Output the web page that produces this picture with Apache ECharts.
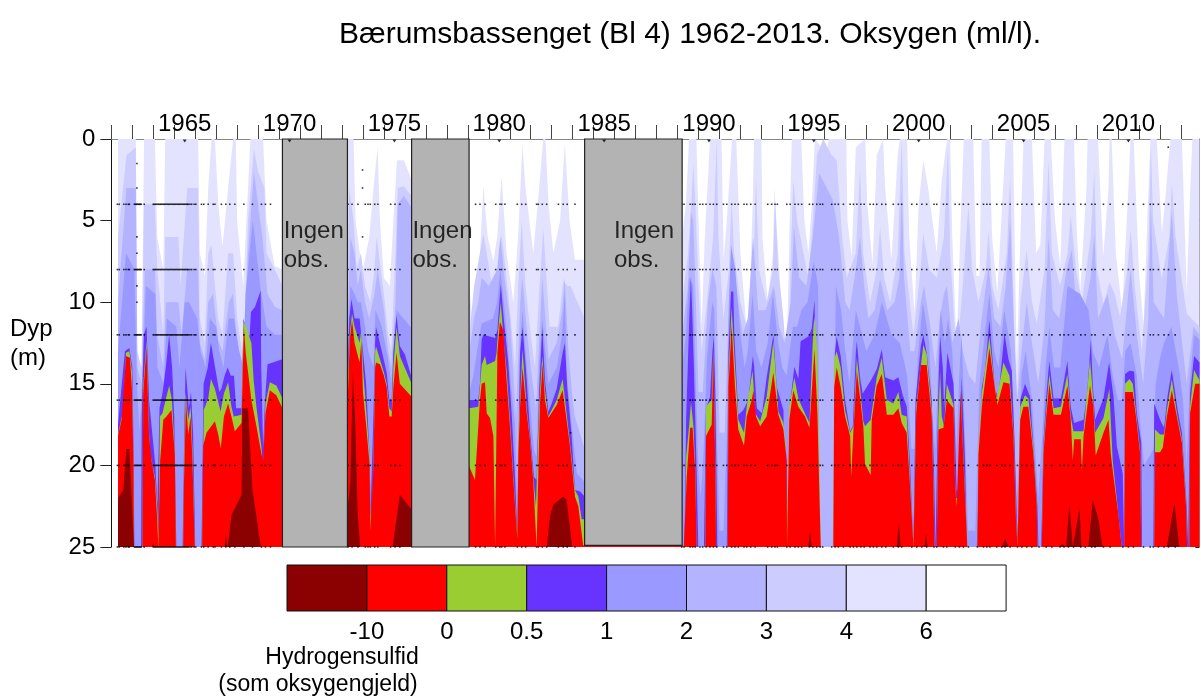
<!DOCTYPE html>
<html><head><meta charset="utf-8">
<style>html,body{margin:0;padding:0;background:#fff}#c{width:1201px;height:700px}</style>
<script src="https://cdn.jsdelivr.net/npm/echarts@6/dist/echarts.min.js"></script>
</head><body><div id="c"></div>
<script>
const titleText='Bærumsbassenget (Bl 4) 1962-2013. Oksygen (ml/l).';
const labelYears=[1965,1970,1975,1980,1985,1990,1995,2000,2005,2010];
const depthTicks=[0,5,10,15,20,25];
const legendColors=['#8b0000','#ff0000','#9acd32','#6633ff','#9999ff','#b3b3ff','#ccccff','#e3e3ff','#ffffff'];
const legendLabels=['-10','0','0.5','1','2','3','4','6'];
const gaps=[[1970.16,1973.26,25],[1976.32,1979.06,25],[1984.57,1989.22,24.9]];
const notes=[[1970.22,6.55],[1976.36,6.55],[1985.97,6.55]];

// depth (m) of the upper limit of each oxygen class, [year, depth]
const limit6=[[1962.32,0],[1963.17,0],[1963.24,14],[1963.44,15],[1963.56,0],[1964.08,0],[1964.19,6],[1964.48,8],[1964.57,0],[1966.14,0],[1966.22,7],[1966.46,8.4],[1966.62,3],[1966.78,0],[1966.94,0],[1967.1,4],[1967.3,6.6],[1967.57,3],[1967.81,0],[1967.94,0],[1968,5],[1968.29,9],[1968.52,3],[1968.63,0],[1969.24,0],[1969.4,5],[1969.79,7.8],[1970.16,8],
[1973.24,0],[1973.55,0],[1973.65,5],[1973.85,7],[1974,8],[1974.3,6],[1974.5,3],[1974.7,0.5],[1974.81,5],[1975,8.5],[1975.28,9],[1975.45,5],[1975.62,1.3],[1975.95,1.3],[1976.32,2.5],
[1979.07,9],[1979.3,12.5],[1979.5,9],[1979.74,2.9],[1979.95,6],[1980.22,7.5],[1980.4,6],[1980.61,2.3],[1980.85,7],[1981.17,10],[1981.4,6],[1981.6,0.3],[1981.75,3],[1982.12,7],[1982.4,3],[1982.6,0],[1982.7,0],[1982.85,4],[1983.08,7],[1983.4,5],[1983.63,0.2],[1983.85,5],[1984.11,7.4],[1984.57,7.4],
[1989.22,6],[1989.4,4],[1989.55,0],[1989.9,0],[1990,5],[1990.15,11.5],[1990.3,6],[1990.55,0],[1991.1,0],[1991.2,7.4],[1991.35,5],[1991.6,0],[1991.8,0],[1992,7],[1992.38,13],[1992.6,3],[1992.65,0],[1993,0],[1993.05,6],[1993.3,10],[1993.55,7],[1993.62,3],[1993.9,9],[1994.2,13.7],[1994.35,5],[1994.45,0],[1994.9,0],[1995.05,5],[1995.24,7],[1995.4,4],[1995.55,0],[1996.1,0.9],[1996.2,0],[1997.05,0],[1997.1,5],[1997.3,7.2],[1997.5,0.5],[1997.95,0],[1998.05,4],[1998.3,7.7],[1998.5,1],[1998.8,0],[1998.9,3],[1999.2,7.4],[1999.5,1],[1999.6,0],[1999.95,0],[2000.05,6],[2000.3,10.7],[2000.5,4],[2000.72,1.3],[2000.95,3],[2001.36,7],[2001.6,2.5],[2001.85,0],[2002,0],[2002.1,6],[2002.31,12.9],[2002.5,5],[2002.65,0],[2003.1,0],[2003.25,8.4],[2003.4,8.4],[2003.5,0],[2003.87,0],[2004,6],[2004.25,9.4],[2004.65,0],[2005,0],[2005.1,8],[2005.18,14],[2005.3,8],[2005.5,0],[2005.9,0],[2006.1,7],[2006.3,6.5],[2006.5,0],[2006.8,0],[2007,5],[2007.25,7.8],[2007.45,0],[2007.9,0],[2008.05,6],[2008.2,9.4],[2008.5,3],[2008.55,0],[2009.05,0],[2009.3,7.2],[2009.55,3],[2009.6,0],[2009.7,0],[2009.9,7],[2010.2,10.5],[2010.5,3],[2010.6,0],[2010.75,0],[2011,8],[2011.22,11.5],[2011.4,5],[2011.55,0],[2011.85,0],[2012.1,5.8],[2012.3,3],[2012.5,0],[2013.05,0],[2013.28,9.4],[2013.45,3],[2013.55,0],[2013.89,0]];

const limit4=[[1962.32,6],[1962.72,1],[1963.17,0.5],[1963.24,13],[1963.44,14],[1963.56,4],[1964.08,4],[1964.19,8],[1964.48,12],[1964.57,6],[1965.2,6],[1965.3,9],[1965.62,3],[1966.14,3],[1966.22,11],[1966.46,12.5],[1966.62,7],[1966.78,6.5],[1966.94,9],[1967.1,11],[1967.3,12],[1967.57,7],[1967.81,7],[1968,11],[1968.29,13.5],[1968.52,5],[1968.8,0.6],[1969,2],[1969.3,3],[1969.4,7],[1969.79,8],[1970.16,9],
[1973.24,10],[1973.35,3],[1973.55,5],[1973.7,8],[1973.9,7],[1974.1,9],[1974.35,10],[1974.55,8],[1974.65,6],[1975,9.5],[1975.2,12],[1975.35,13],[1975.55,7],[1975.66,3],[1975.95,2.9],[1976.32,3.5],
[1979.07,12],[1979.3,9],[1979.74,5.8],[1979.9,7],[1980.15,9],[1980.4,8.5],[1980.61,5.8],[1980.8,8],[1981.05,11],[1981.25,14],[1981.4,9],[1981.57,5],[1981.75,9],[1982,12],[1982.2,14],[1982.42,9],[1982.6,5.5],[1982.9,11.5],[1983.3,11.5],[1983.55,8.7],[1983.75,9],[1983.9,9],[1984.57,11],
[1989.22,10],[1989.5,7],[1989.7,3],[1989.76,1.5],[1989.85,4],[1990,9],[1990.15,13],[1990.4,10],[1990.7,6],[1990.87,0],[1990.95,6],[1991.19,11],[1991.45,8],[1991.58,3.7],[1991.7,7],[1992,10],[1992.38,12],[1992.62,8],[1992.74,2.3],[1992.88,8],[1993.25,10],[1993.55,8],[1993.65,3.7],[1993.8,8],[1994.05,11],[1994.25,14.5],[1994.4,7],[1994.52,2.5],[1994.7,5],[1995.24,8.5],[1995.45,5],[1995.65,1],[1995.95,0],[1996.35,1],[1996.59,1.3],[1996.85,6],[1997.07,8.5],[1997.5,7],[1997.7,1.9],[1997.85,7],[1998.18,10],[1998.5,8],[1998.66,5.4],[1998.85,8.5],[1999.14,10],[1999.5,7],[1999.69,0],[1999.82,7],[2000.25,12],[2000.55,8.5],[2000.72,5.8],[2001,8],[2001.36,8.5],[2001.7,6],[2001.9,0.5],[2002,7],[2002.31,13.5],[2002.6,9],[2002.87,4.1],[2003.05,8],[2003.35,10],[2003.7,8],[2003.83,5.6],[2004,9],[2004.3,10.5],[2004.7,7],[2004.86,2.3],[2005,9],[2005.18,16.7],[2005.35,10],[2005.65,6.8],[2005.9,10],[2006.13,11.3],[2006.5,8],[2006.69,1.3],[2006.85,7],[2007.24,9],[2007.6,7],[2007.75,4.7],[2008,8],[2008.28,10],[2008.7,6],[2008.87,1.9],[2009,8],[2009.31,10.1],[2009.6,8.8],[2009.85,9.5],[2010.1,10.9],[2010.45,8],[2010.61,5.6],[2010.8,9],[2011.14,13],[2011.45,7],[2011.57,0.3],[2011.68,5],[2012.09,8.6],[2012.45,6],[2012.57,2.7],[2012.75,6],[2013.28,10.7],[2013.5,11],[2013.89,11.5]];

const limit3=[[1962.32,10],[1962.72,3],[1963.17,3],[1963.24,14],[1963.44,15],[1963.6,8],[1964.08,8],[1964.19,12],[1964.48,14],[1964.6,10],[1965.2,10],[1965.35,12],[1965.62,8],[1966.14,8],[1966.22,12.5],[1966.46,13.5],[1966.62,10],[1966.85,9.5],[1967.1,12.3],[1967.3,13],[1967.6,10],[1967.8,9.5],[1968,12.5],[1968.29,14],[1968.52,7],[1968.8,2],[1969.2,6],[1969.45,9.5],[1969.8,10.3],[1970.16,10.5],
[1973.24,12.5],[1973.4,6],[1973.6,7],[1973.75,9],[1973.9,8],[1974.1,10],[1974.3,11],[1974.55,9.5],[1974.7,8],[1975,10.5],[1975.2,13],[1975.35,14],[1975.55,10],[1975.66,4],[1975.95,3.5],[1976.32,4.2],
[1979.07,13],[1979.3,11],[1979.5,10],[1979.66,8.5],[1980,9],[1980.4,8],[1980.55,6],[1980.75,8.5],[1981,11],[1981.2,15],[1981.3,17],[1981.5,10],[1981.6,8.5],[1981.8,11.5],[1982,14],[1982.25,16.5],[1982.4,12.5],[1982.55,8.5],[1982.85,13.5],[1983.24,12.5],[1983.5,10.5],[1983.62,8.5],[1983.8,13],[1984,16],[1984.1,17],[1984.57,19],
[1989.22,12],[1989.5,9],[1989.64,4.5],[1989.75,5],[1989.9,11],[1990,15.5],[1990.2,15.5],[1990.45,10],[1990.66,8],[1990.85,9],[1991,18],[1991.25,18],[1991.45,10],[1991.58,7.2],[1991.8,9],[1992.1,12],[1992.35,11],[1992.6,6],[1992.85,10.5],[1993.2,10.5],[1993.6,9],[1993.85,11.5],[1994.1,12.5],[1994.4,10],[1994.55,5.4],[1994.8,8.5],[1995.15,9],[1995.45,6],[1995.75,2.1],[1996.4,3.7],[1996.7,6],[1997,10],[1997.2,10.5],[1997.5,8],[1997.7,6],[1997.9,9],[1998.1,11],[1998.4,10.5],[1998.66,8.6],[1999,10.5],[1999.35,10],[1999.58,8.5],[1999.69,3.3],[1999.8,8.5],[2000.1,13],[2000.3,13],[2000.6,10],[2000.75,9],[2001,11],[2001.3,14],[2001.5,11],[2001.7,9.5],[2001.85,9],[2002.1,12.5],[2002.4,11],[2002.6,13],[2002.9,14.5],[2003.2,15],[2003.5,11],[2003.83,7.8],[2004.1,11],[2004.4,11.5],[2004.65,9],[2004.86,5],[2005.02,11],[2005.2,16],[2005.4,13],[2005.65,10],[2005.9,12.5],[2006.2,15],[2006.5,11.5],[2006.69,6],[2006.9,10.5],[2007.2,11],[2007.55,8],[2007.8,6.8],[2008,10],[2008.4,10.5],[2008.7,8.5],[2008.87,5.8],[2009.05,11],[2009.5,9.5],[2009.85,12],[2010.2,13.5],[2010.6,8],[2010.9,12],[2011.2,15],[2011.45,11],[2011.57,4],[2011.7,10],[2012.2,11],[2012.57,4.5],[2012.8,9.5],[2013.28,15],[2013.6,11.5],[2013.89,12]];

const limit2=[[1962.32,13],[1962.7,7],[1963.1,8],[1963.22,15],[1963.35,18],[1963.5,14],[1963.65,9],[1964.1,9.5],[1964.2,14],[1964.5,15],[1964.65,11],[1965.1,11.5],[1965.25,14],[1965.5,10],[1965.7,10],[1966.1,11],[1966.25,13],[1966.5,14],[1966.7,11],[1967,11.5],[1967.15,13],[1967.35,14],[1967.6,11],[1967.85,11],[1968.1,13],[1968.3,14],[1968.4,9.5],[1968.75,5],[1969.1,9],[1969.4,11.5],[1969.8,12],[1970.16,12],
[1973.24,13],[1973.4,9],[1973.6,9.5],[1973.75,10],[1973.9,10],[1974.1,11.5],[1974.25,13],[1974.5,14],[1974.6,10.5],[1974.9,11.5],[1975.2,13.5],[1975.35,15],[1975.5,12.5],[1975.6,10.5],[1975.8,10.8],[1976.32,11.6],
[1979.07,15.5],[1979.26,14.5],[1979.5,12.5],[1979.66,11.3],[1980.2,11],[1980.4,10],[1980.55,8],[1980.72,10],[1980.9,12.5],[1981.05,15],[1981.25,17.5],[1981.35,22],[1981.49,12.5],[1981.61,10.5],[1981.75,13],[1981.95,16],[1982.15,19],[1982.28,19.5],[1982.4,14],[1982.55,11],[1982.84,15],[1983.24,14],[1983.5,12],[1983.62,9.5],[1983.72,14.5],[1983.95,17.5],[1984.2,20.5],[1984.57,21],
[1989.22,14],[1989.4,12],[1989.55,8.5],[1989.75,9],[1989.85,14],[1990,20.5],[1990.1,22],[1990.25,19],[1990.4,13.5],[1990.66,10],[1990.75,10.5],[1990.85,17],[1991,24],[1991.2,24],[1991.35,18],[1991.45,10],[1991.55,6.5],[1991.75,8],[1992,12],[1992.2,14],[1992.35,13],[1992.58,9.5],[1992.75,13],[1993,14],[1993.3,12.5],[1993.55,9.5],[1993.8,12.5],[1994,14],[1994.2,14.5],[1994.5,11.5],[1994.7,11.5],[1994.9,10.5],[1995.2,10],[1995.5,7.5],[1995.7,9],[1995.78,25],[1996.4,25],[1996.55,9],[1996.8,10.5],[1997,13],[1997.2,15],[1997.5,10.5],[1998,13],[1998.4,12],[1998.75,10],[1999.2,12],[1999.6,12.5],[1999.95,14.5],[2000.15,19],[2000.3,19],[2000.45,13.5],[2000.7,10],[2001,12.5],[2001.15,17],[2001.3,19],[2001.45,13],[2001.55,10.5],[2001.75,12.5],[2001.9,11],[2002.1,13],[2002.3,19],[2002.45,14],[2002.55,12],[2002.7,18],[2002.85,24],[2003.2,24],[2003.4,15],[2003.65,12],[2003.87,9.5],[2004.1,13],[2004.3,14],[2004.58,10.5],[2004.9,13],[2005.05,18],[2005.18,22],[2005.3,19],[2005.4,14.5],[2005.6,13],[2005.9,16],[2006.2,22],[2006.4,18],[2006.55,14],[2006.73,11.5],[2006.95,14],[2007.25,14],[2007.6,9],[2008.2,9.5],[2008.6,10.5],[2008.8,13],[2009.1,14],[2009.5,12],[2009.75,14.5],[2010,16],[2010.2,16],[2010.35,13],[2010.6,12.5],[2010.9,14.5],[2011.1,18],[2011.25,20],[2011.7,19],[2011.8,15],[2012,13.5],[2012.2,12.5],[2012.55,11.5],[2012.9,14],[2013.1,16],[2013.28,20],[2013.42,15],[2013.63,12],[2013.89,12.3]];

const limit1=[[1962.32,17.5],[1962.5,15],[1962.65,13],[1962.86,12.8],[1963,14],[1963.05,18],[1963.1,25],[1963.42,25],[1963.45,17],[1963.55,12],[1963.68,11.5],[1963.8,16],[1963.95,18],[1964.1,20],[1964.2,22.5],[1964.3,16.5],[1964.45,15.5],[1964.6,14],[1964.76,12],[1964.9,14],[1965,17],[1965.1,25],[1965.4,25],[1965.48,18],[1965.54,14],[1965.7,16.5],[1965.8,15.5],[1965.9,18],[1966,25],[1966.3,25],[1966.4,15],[1966.6,14],[1966.75,12.5],[1966.95,14],[1967.15,15.5],[1967.25,15.3],[1967.4,14.5],[1967.55,14],[1967.7,14.5],[1967.85,14.5],[1967.95,16.5],[1968.21,16.5],[1968.3,11],[1968.4,11.5],[1968.47,12.3],[1968.6,12],[1968.66,10.6],[1968.85,10.3],[1969.12,9.3],[1969.15,14],[1969.24,19],[1969.33,16],[1969.45,13.8],[1970.16,13.5],
[1973.24,15.5],[1973.35,11],[1973.45,9.8],[1973.6,11],[1973.84,11],[1973.92,10.9],[1974,13],[1974.15,15],[1974.3,19],[1974.37,22.5],[1974.43,22.5],[1974.5,17],[1974.58,12.5],[1974.62,11.5],[1974.9,13],[1975.13,14.3],[1975.26,16],[1975.37,16],[1975.45,13],[1975.6,10.8],[1975.76,12.7],[1976,13.2],[1976.32,14.6],
[1979.07,16],[1979.5,16],[1979.58,15],[1979.66,12.3],[1979.74,12],[1980.3,12.2],[1980.41,11.7],[1980.57,8.9],[1980.72,11.1],[1980.93,13.7],[1981.09,16.8],[1981.25,20.7],[1981.36,24.2],[1981.49,13.1],[1981.61,11.5],[1981.81,14.8],[1981.96,17.8],[1982.15,20.7],[1982.28,20.9],[1982.41,15.2],[1982.55,11.5],[1982.68,14.8],[1982.84,16.7],[1983,16.2],[1983.24,15.3],[1983.52,13.1],[1983.63,12.5],[1983.74,15.2],[1983.95,18.2],[1984.11,21.5],[1984.35,21.6],[1984.57,21.9],
[1989.33,25],[1989.41,17.2],[1989.56,11],[1989.64,8.4],[1989.72,11.3],[1989.84,16.8],[1989.91,20.3],[1989.99,25],[1990.26,25],[1990.36,16.5],[1990.55,15.8],[1990.66,13.1],[1990.73,12.1],[1990.81,16.2],[1990.9,25],[1991.35,25],[1991.43,13.1],[1991.55,9.35],[1991.66,9.35],[1991.71,12.1],[1991.9,16.9],[1992.14,16.6],[1992.38,16],[1992.59,13.3],[1992.65,13.9],[1992.78,16.5],[1993.03,16.8],[1993.25,14.6],[1993.44,13.1],[1993.57,12],[1993.73,15.2],[1994.05,16.6],[1994.14,25],[1994.33,25],[1994.37,16.2],[1994.57,13.95],[1994.76,14.7],[1994.87,12.4],[1995.24,12.1],[1995.4,11.6],[1995.53,9.9],[1995.61,15.2],[1995.8,25],[1996.47,25],[1996.5,13.1],[1996.59,12.1],[1996.78,13.3],[1996.99,16],[1997.23,17.9],[1997.36,17.6],[1997.5,13.1],[1997.55,12.4],[1997.7,14.6],[1997.83,15.6],[1998.26,14.7],[1998.5,14.1],[1998.74,12.9],[1998.9,14.6],[1999.29,14.8],[1999.53,14.6],[1999.74,15.7],[1999.93,16.4],[2000.09,20],[2000.25,25],[2000.3,25],[2000.35,16],[2000.6,12.7],[2000.72,12],[2000.88,13.1],[2001.12,16],[2001.23,20.3],[2001.3,25],[2001.38,25],[2001.44,15.2],[2001.52,12.1],[2001.65,14],[2001.71,16.5],[2001.87,13.1],[2002.16,15],[2002.31,21.5],[2002.39,21.7],[2002.55,14.6],[2002.71,19.7],[2002.79,25],[2003.27,25],[2003.51,15.2],[2003.66,14.2],[2003.87,11.1],[2004.14,15.4],[2004.3,15.8],[2004.59,11.9],[2004.78,13.5],[2004.94,14.2],[2005.05,17.8],[2005.18,23.3],[2005.26,25],[2005.27,25],[2005.34,16],[2005.57,15],[2005.81,15.8],[2005.97,18.85],[2006.16,22.5],[2006.21,25],[2006.34,25],[2006.45,18.6],[2006.58,15.8],[2006.73,13.6],[2006.93,15.9],[2007.28,15.9],[2007.59,13.6],[2007.75,16.4],[2007.91,17.4],[2008.36,17.2],[2008.52,15.8],[2008.71,12.3],[2008.8,15],[2008.91,17.2],[2009.31,15.9],[2009.58,13.7],[2009.79,15.8],[2009.95,18.85],[2010.23,20.5],[2010.3,25],[2010.34,14.4],[2010.55,14.2],[2010.77,14.25],[2010.9,16.8],[2011.11,18.6],[2011.15,25],[2011.69,25],[2011.73,16.2],[2012.01,17.2],[2012.2,17.7],[2012.36,15.8],[2012.57,14.15],[2012.85,16.6],[2013.05,18],[2013.28,22.5],[2013.35,25],[2013.38,25],[2013.44,15.6],[2013.63,13.3],[2013.89,13.7]];

const limit05=[[1962.32,18.1],[1962.57,16.6],[1962.7,13.1],[1962.86,13],[1962.98,14.2],[1963.05,19.2],[1963.08,25],[1963.49,25],[1963.52,15.2],[1963.68,12.3],[1963.8,18],[1963.86,19.3],[1964.08,20.7],[1964.19,22.5],[1964.25,24.5],[1964.28,24.5],[1964.32,17],[1964.44,16.8],[1964.59,16],[1964.76,15.1],[1964.89,16],[1965.03,19.2],[1965.08,25],[1965.43,25],[1965.46,20.7],[1965.54,15.5],[1965.67,17.2],[1965.78,16.4],[1965.87,18.9],[1965.98,25],[1966.33,25],[1966.41,16.6],[1966.62,15.9],[1966.75,14.7],[1966.94,15.3],[1967.21,16.7],[1967.37,15.6],[1967.57,14.9],[1967.73,16.4],[1967.84,17],[1968.21,16.9],[1968.3,11.2],[1968.4,11.4],[1968.68,12.5],[1968.79,14.8],[1968.92,16.4],[1969.16,18.9],[1969.24,20.7],[1969.35,16.2],[1969.56,14.9],[1969.87,15.1],[1970.16,15.9],
[1973.24,16.1],[1973.37,12],[1973.48,10.7],[1973.6,11.5],[1973.84,12.5],[1973.92,11.7],[1974,14],[1974.15,16.5],[1974.32,19.5],[1974.37,23],[1974.43,23.5],[1974.5,20],[1974.58,13],[1974.62,12.7],[1974.81,13.5],[1975,14.3],[1975.13,15],[1975.26,16.5],[1975.37,16.7],[1975.45,14],[1975.6,11.5],[1975.76,13.3],[1976.32,15],
[1979.07,16.5],[1979.5,16.4],[1979.66,13.85],[1979.82,13.3],[1979.9,13.85],[1980.3,13.6],[1980.37,13.1],[1980.45,11.7],[1980.57,10],[1980.72,12.5],[1980.85,14.2],[1981.01,17.2],[1981.17,20.7],[1981.36,24.4],[1981.41,18.2],[1981.61,12.9],[1981.81,16.6],[1981.96,18.3],[1982.12,20.7],[1982.25,22.5],[1982.33,22.5],[1982.41,16.2],[1982.55,13.3],[1982.68,15.4],[1982.84,17],[1983.24,16],[1983.52,14.7],[1983.71,16.8],[1983.87,18.6],[1984.11,21.5],[1984.27,21.9],[1984.43,23.3],[1984.57,23.3],
[1989.36,25],[1989.41,19.5],[1989.55,17.6],[1989.64,16.1],[1989.76,17.6],[1989.84,20],[1989.91,25],[1990.33,25],[1990.36,16.4],[1990.47,16.2],[1990.63,16],[1990.71,12.9],[1990.79,18.9],[1990.84,25],[1991.39,25],[1991.43,14.5],[1991.58,10.3],[1991.72,13.5],[1991.9,17.2],[1992.17,18],[1992.3,16.4],[1992.54,14.5],[1992.58,14.2],[1992.7,16.8],[1992.94,17.3],[1993.25,15.8],[1993.57,12.4],[1993.81,16.7],[1994.05,17.4],[1994.17,18.8],[1994.22,24],[1994.3,24],[1994.33,16.4],[1994.57,14.6],[1994.76,15.9],[1995,16.6],[1995.29,17.4],[1995.48,11.5],[1995.53,10.9],[1995.67,13.1],[1995.83,25],[1996.43,25],[1996.47,13.5],[1996.59,13],[1996.78,14],[1996.99,16.6],[1997.23,18],[1997.39,17.6],[1997.55,13.4],[1997.7,15.2],[1997.86,17.3],[1997.94,17.6],[1998.21,17.2],[1998.5,14.6],[1998.74,13.4],[1998.98,16],[1999.29,16.2],[1999.53,15.5],[1999.69,16.9],[1999.93,17],[2000.09,20.9],[2000.25,25],[2000.3,25],[2000.38,16.4],[2000.72,12.6],[2000.88,13.2],[2001.12,16.6],[2001.2,20.9],[2001.25,25],[2001.36,25],[2001.44,17],[2001.52,14.2],[2001.6,17],[2001.71,17.6],[2001.84,15],[2002.16,16.3],[2002.24,21.3],[2002.28,22],[2002.39,22],[2002.5,15.3],[2002.63,19.5],[2002.82,25],[2003.3,25],[2003.35,18.9],[2003.51,15.6],[2003.87,12.1],[2004.06,14.4],[2004.22,15.9],[2004.54,13.7],[2004.83,14.5],[2005.02,18],[2005.14,23.1],[2005.21,25],[2005.3,25],[2005.34,16.4],[2005.57,15.7],[2005.73,15.9],[2005.97,19],[2006.13,22.4],[2006.16,25],[2006.37,25],[2006.45,19],[2006.58,16.6],[2006.73,14.4],[2006.93,16.5],[2007.28,16.4],[2007.59,14.4],[2007.75,17],[2007.88,17.9],[2008.36,17.9],[2008.67,13.5],[2008.8,15.6],[2008.91,18],[2009.31,17.1],[2009.59,15.3],[2009.75,19.7],[2009.95,22.1],[2010.18,25],[2010.3,25],[2010.34,15],[2010.55,14.7],[2010.71,15],[2010.9,17.2],[2011.06,19.1],[2011.11,25],[2011.73,25],[2011.77,17.8],[2012.01,18.1],[2012.2,18.1],[2012.33,16.6],[2012.57,14.7],[2012.81,16.8],[2013.05,18.4],[2013.25,22.3],[2013.3,25],[2013.41,25],[2013.44,16.4],[2013.63,14.15],[2013.89,14.8]];

const limit0=[[1962.32,18.2],[1962.49,17.2],[1962.6,15.2],[1962.7,13.3],[1962.89,13.4],[1962.98,15.2],[1963.05,19.3],[1963.08,25],[1963.49,25],[1963.52,15.6],[1963.68,12.7],[1963.8,18.2],[1963.92,19.7],[1964.08,20.9],[1964.19,23.3],[1964.24,25],[1964.3,25],[1964.33,19.7],[1964.48,17.2],[1964.63,17],[1964.87,16.6],[1965.03,19.3],[1965.08,25],[1965.43,25],[1965.46,21.3],[1965.56,16],[1965.67,18.1],[1965.78,17],[1965.87,19.7],[1965.98,25],[1966.33,25],[1966.38,18.8],[1966.54,18],[1966.94,17.3],[1967.1,18.1],[1967.22,18.95],[1967.37,17],[1967.57,16.2],[1967.73,17],[1967.89,17.9],[1968.21,17.4],[1968.32,11.5],[1968.41,13.1],[1968.68,16],[1968.92,17.6],[1969.16,19.3],[1969.24,19.7],[1969.35,16.8],[1969.56,15.4],[1969.87,15.7],[1970.16,16.5],
[1973.24,17.3],[1973.37,12.3],[1973.48,11.1],[1973.6,12.5],[1973.84,13.7],[1973.92,12.4],[1974,15.5],[1974.15,17.5],[1974.32,20],[1974.36,24],[1974.43,24],[1974.5,20],[1974.58,14],[1974.62,13.7],[1974.81,13.8],[1975,14.5],[1975.13,15.2],[1975.26,17],[1975.37,17],[1975.45,15.2],[1975.6,13.1],[1975.76,15],[1976.32,15.8],
[1979.07,20.07],[1979.34,20.9],[1979.42,19.25],[1979.58,16],[1979.66,15],[1979.82,14.9],[1979.9,16.8],[1980.06,17.1],[1980.22,18.2],[1980.3,25],[1980.37,25],[1980.41,13.1],[1980.53,11.2],[1980.69,11.7],[1980.85,14.8],[1981.01,17.6],[1981.17,20.9],[1981.36,24.5],[1981.41,19.3],[1981.49,16.4],[1981.61,14],[1981.81,16.8],[1981.96,18.4],[1982.12,20.9],[1982.28,25],[1982.36,25],[1982.44,16.2],[1982.57,13.75],[1982.68,16],[1982.84,17.1],[1983.24,16.3],[1983.52,15.4],[1983.71,17.2],[1983.87,18.8],[1984.11,21.9],[1984.27,22.5],[1984.5,24.9],[1989.2,24.9],[1989.3,25],
[1989.36,25],[1989.44,20.7],[1989.6,17.7],[1989.72,17.7],[1989.84,20.3],[1989.91,25],[1990.33,25],[1990.36,18.2],[1990.47,17.9],[1990.63,17.5],[1990.71,13.1],[1990.79,19.3],[1990.84,25],[1991.39,25],[1991.43,15.2],[1991.58,11.4],[1991.74,15.2],[1991.9,17.8],[1992.17,18.8],[1992.3,17],[1992.54,16],[1992.62,15.4],[1992.74,17],[1992.94,17.6],[1993.25,17],[1993.57,14.3],[1993.81,16.9],[1994.05,17.8],[1994.21,19.7],[1994.22,25],[1994.3,25],[1994.33,17.2],[1994.52,15.4],[1994.76,16.4],[1995.08,17],[1995.29,17.7],[1995.53,12.9],[1995.67,16.8],[1995.83,25],[1996.43,25],[1996.47,15.2],[1996.59,14],[1996.78,15.2],[1996.99,17],[1997.23,18.2],[1997.28,20.7],[1997.39,17.8],[1997.55,14.2],[1997.7,15.8],[1997.86,17.6],[1997.94,19.9],[1998.21,20.6],[1998.26,17.2],[1998.5,15.1],[1998.74,14.4],[1998.98,16.9],[1999.29,16.9],[1999.53,16.5],[1999.69,17.4],[1999.93,18],[2000.09,21.3],[2000.25,25],[2000.3,25],[2000.38,16.8],[2000.6,13.85],[2000.88,13.85],[2001.12,17],[2001.2,21.3],[2001.25,25],[2001.36,25],[2001.44,17.8],[2001.68,17.7],[2001.84,16],[2002.16,16.5],[2002.24,21.3],[2002.31,22.5],[2002.39,22.5],[2002.5,15.4],[2002.63,19.7],[2002.82,25],[2003.3,25],[2003.35,19.3],[2003.51,16.4],[2003.87,12.8],[2004.06,14.6],[2004.25,16.3],[2004.54,14.9],[2004.83,15],[2005.02,18.2],[2005.14,23.3],[2005.21,25],[2005.3,25],[2005.34,17.2],[2005.49,16.4],[2005.73,16.4],[2005.97,19.3],[2006.13,22.5],[2006.16,25],[2006.37,25],[2006.45,19.3],[2006.58,17],[2006.73,15],[2006.93,16.9],[2007.28,16.9],[2007.59,15.1],[2007.75,17.2],[2007.85,19.7],[2007.91,18.4],[2008.23,18.4],[2008.28,20.3],[2008.36,18.2],[2008.67,15.1],[2008.83,16.4],[2008.94,19.4],[2009.31,18],[2009.55,17.2],[2009.66,19.3],[2009.79,20.7],[2010.03,23.1],[2010.18,25],[2010.3,25],[2010.34,15.5],[2010.71,15.5],[2010.9,17.4],[2011.06,19.3],[2011.11,25],[2011.73,25],[2011.77,19.2],[2012.01,19.2],[2012.14,18.9],[2012.33,17],[2012.57,15.4],[2012.81,17],[2013.05,18.6],[2013.25,22.5],[2013.3,25],[2013.41,25],[2013.44,16.8],[2013.68,15],[2013.89,15]];

const limitM10=[[1962.32,22],[1962.57,21.5],[1962.72,19],[1962.86,19],[1962.95,21.5],[1963.08,25],[1963.95,25],[1964,24.7],[1964.05,25],[1967.4,25],[1967.46,24.3],[1967.55,25],[1967.62,25],[1967.73,23.05],[1968.21,21.8],[1968.25,16.5],[1968.52,16.5],[1968.73,21.5],[1968.92,23.1],[1969.13,25],[1970.16,25],
[1973.24,23],[1973.4,21],[1973.52,14.3],[1973.62,17],[1973.75,23],[1973.87,25],[1975.41,25],[1975.76,21.8],[1976.32,22.7],
[1979.07,25],[1982.76,25],[1982.92,23.1],[1983.08,22.4],[1983.55,21.9],[1983.71,22.1],[1983.98,25],[1995.24,25],[1995.32,24],[1995.4,25],[1999.45,25],[1999.55,23.5],[1999.64,25],[2000.77,25],[2000.85,24.2],[2000.92,25],[2004.46,25],[2004.62,24.5],[2004.78,25],[2007.21,25],[2007.32,24.8],[2007.53,25],[2007.56,25],[2007.69,22.4],[2007.85,25],[2007.91,25],[2008.17,22.6],[2008.26,25],[2008.59,25],[2008.8,22.1],[2009.07,23.3],[2009.27,25],[2012.33,25],[2012.69,22.3],[2012.93,25],[2013.89,25]];

const obsTimes=[1962.29,1962.38,1962.6,1962.7,1962.81,1962.86,1963.1,1963.15,1963.2,1963.24,1963.29,1963.34,1963.38,1963.43,1963.57,1964,1964.06,1964.12,1964.18,1964.24,1964.3,1964.36,1964.42,1964.48,1964.54,1964.6,1964.66,1964.72,1964.78,1964.84,1964.9,1964.96,1965.02,1965.08,1965.14,1965.2,1965.26,1965.32,1965.38,1965.44,1965.5,1965.56,1965.62,1965.67,1965.75,1965.83,1965.95,1966.03,1966.3,1966.41,1966.62,1966.86,1966.94,1967.25,1967.46,1967.65,1967.89,1968.32,1968.73,1969.16,1969.35,1969.59,
1973.29,1973.48,1973.76,1974.11,1974.24,1974.35,1974.56,1974.71,1975.32,1975.53,1975.76,
1979.37,1979.58,1979.82,1980.33,1980.53,1980.61,1980.77,1981.36,1981.57,1981.76,1982.28,1982.36,1982.55,1982.76,1983.32,1983.55,1983.74,1984.11,
1989.2,1989.31,1989.6,1989.72,1989.84,1990.07,1990.2,1990.36,1990.55,1990.71,1990.87,1991.19,1991.35,1991.58,1991.74,1991.9,1992.17,1992.3,1992.49,1992.7,1993.3,1993.49,1993.65,1993.76,1994.21,1994.37,1994.6,1994.76,1994.92,1995.29,1995.45,1995.64,1995.8,1995.92,1996.35,1996.51,1996.67,1996.91,1997.23,1997.39,1997.55,1997.74,1997.9,1998.18,1998.34,1998.5,1998.74,1998.93,1999.29,1999.53,1999.69,2000.17,2000.41,2000.65,2000.88,2001.23,2001.36,2001.68,
2001.84,2002.24,2002.44,2002.63,2002.87,2003.3,2003.59,2003.75,2003.9,2004.22,2004.46,2004.62,2004.86,2005.21,2005.42,2005.65,2005.89,2006.24,2006.58,2006.85,2007.24,2007.43,2007.64,2007.88,2008.23,2008.44,2008.75,2008.91,2009.31,2009.63,2010.23,2010.5,2010.74,2011.22,2011.54,2011.69,2011.93,2012.2,2012.41,2012.73];
const obsDepths=[4,8,12,16,20,25];
const extraObs=[[1963.22,1.5],[1963.22,3],[1963.22,6],[1963.22,7],[1963.22,9],[1963.22,10],[1963.22,15],[1973.98,1.9],[1973.98,3],[1973.98,6],[1983.9,18],[2012.4,0.5]];

const FONT='"Liberation Sans",Arial,sans-serif';
const layers=[[limit6,7],[limit4,6],[limit3,5],[limit2,4],[limit1,3],[limit05,2],[limit0,1],[limitM10,0]];
const series=layers.map(([d,c],i)=>({
  type:'line',data:d,showSymbol:false,silent:true,z:2+i*0.01,clip:true,
  lineStyle:{width:0},areaStyle:{color:legendColors[c],opacity:1,origin:'end'},animation:false
}));
const obsPts=[];
obsDepths.forEach(z=>obsTimes.forEach(t=>obsPts.push([t,z])));
series.push({type:'scatter',data:obsPts.concat(extraObs),symbol:'rect',symbolSize:[1.6,1.6],itemStyle:{color:'#000'},z:4,silent:true,clip:false,animation:false});
series.push({type:'scatter',data:[],z:6,silent:true,animation:false,
  markArea:{z:6,silent:true,animation:false,itemStyle:{color:'#b3b3b3',borderColor:'#222',borderWidth:1.2},
    data:gaps.map(g=>[{coord:[g[0],0]},{coord:[g[1],g[2]]}])}});
series.push({type:'scatter',data:notes,symbolSize:0.01,z:8,silent:true,animation:false,clip:false,
  label:{show:true,position:'right',distance:0,formatter:'Ingen\nobs.',fontFamily:FONT,fontSize:24,lineHeight:29,color:'#000',align:'left'}});
series.push({type:'scatter',data:labelYears.map(y=>[y+0.5,0]),symbol:'triangle',symbolRotate:180,symbolSize:[4,3],symbolOffset:[0,2],itemStyle:{color:'#000'},z:9,clip:false,silent:true,animation:false});

const legendX=287,legendW=79.9,legendY=565,legendH=46;
const graphic=[];
legendColors.forEach((c,i)=>graphic.push({type:'rect',shape:{x:legendX+i*legendW,y:legendY,width:legendW,height:legendH},style:{fill:c,stroke:'#111',lineWidth:1}}));
legendLabels.forEach((t,i)=>graphic.push({type:'text',style:{x:legendX+(i+1)*legendW,y:632,text:t,fill:'#000',font:'24px '+FONT,textAlign:'center',textVerticalAlign:'middle'}}));
[['Hydrogensulfid',342,658,'center',23],['(som oksygengjeld)',318,685,'center',23],['Dyp',10,329,'left',24],['(m)',10,358,'left',24]].forEach(a=>graphic.push({type:'text',style:{x:a[1],y:a[2],text:a[0],fill:'#000',font:a[4]+'px '+FONT,textAlign:a[3],textVerticalAlign:'middle'}}));

const chart=echarts.init(document.getElementById('c'),null,{renderer:'canvas'});
const yearTicks=[];for(let y=1962;y<=2013;y++)yearTicks.push(y);
chart.setOption({
  animation:false,backgroundColor:'#fff',
  title:{text:titleText,left:334,top:15,textStyle:{fontFamily:FONT,fontSize:30,fontWeight:'normal',color:'#000'}},
  grid:{left:111.3,top:139,width:1088,height:408},
  graphic,
  xAxis:[{type:'value',position:'top',min:1962,max:2013.88,axisLine:{lineStyle:{color:'#111',width:1}},
    axisTick:{show:true,length:14,customValues:yearTicks,lineStyle:{color:'#444'}},
    axisLabel:{show:true,customValues:labelYears.map(y=>y+0.5),formatter:v=>String(Math.floor(v)),margin:3,fontFamily:FONT,fontSize:24,color:'#000',align:'center'},splitLine:{show:false}},
   {type:'value',position:'bottom',min:1962,max:2013.88,axisLine:{lineStyle:{color:'#888',width:1}},axisTick:{show:false},axisLabel:{show:false},splitLine:{show:false}}],
  yAxis:[{type:'value',inverse:true,min:0,max:25,interval:5,axisLine:{show:true,lineStyle:{color:'#111',width:1}},
    axisTick:{show:true,length:11,lineStyle:{color:'#222'}},axisLabel:{margin:16,fontFamily:FONT,fontSize:24,color:'#000'},splitLine:{show:false}},
   {type:'value',inverse:true,position:'right',min:0,max:25,interval:5,axisLine:{show:true,lineStyle:{color:'#777',width:1}},
    axisTick:{show:true,inside:true,length:4,lineStyle:{color:'#222'}},axisLabel:{show:false},splitLine:{show:false}}],
  series
});
</script></body></html>
